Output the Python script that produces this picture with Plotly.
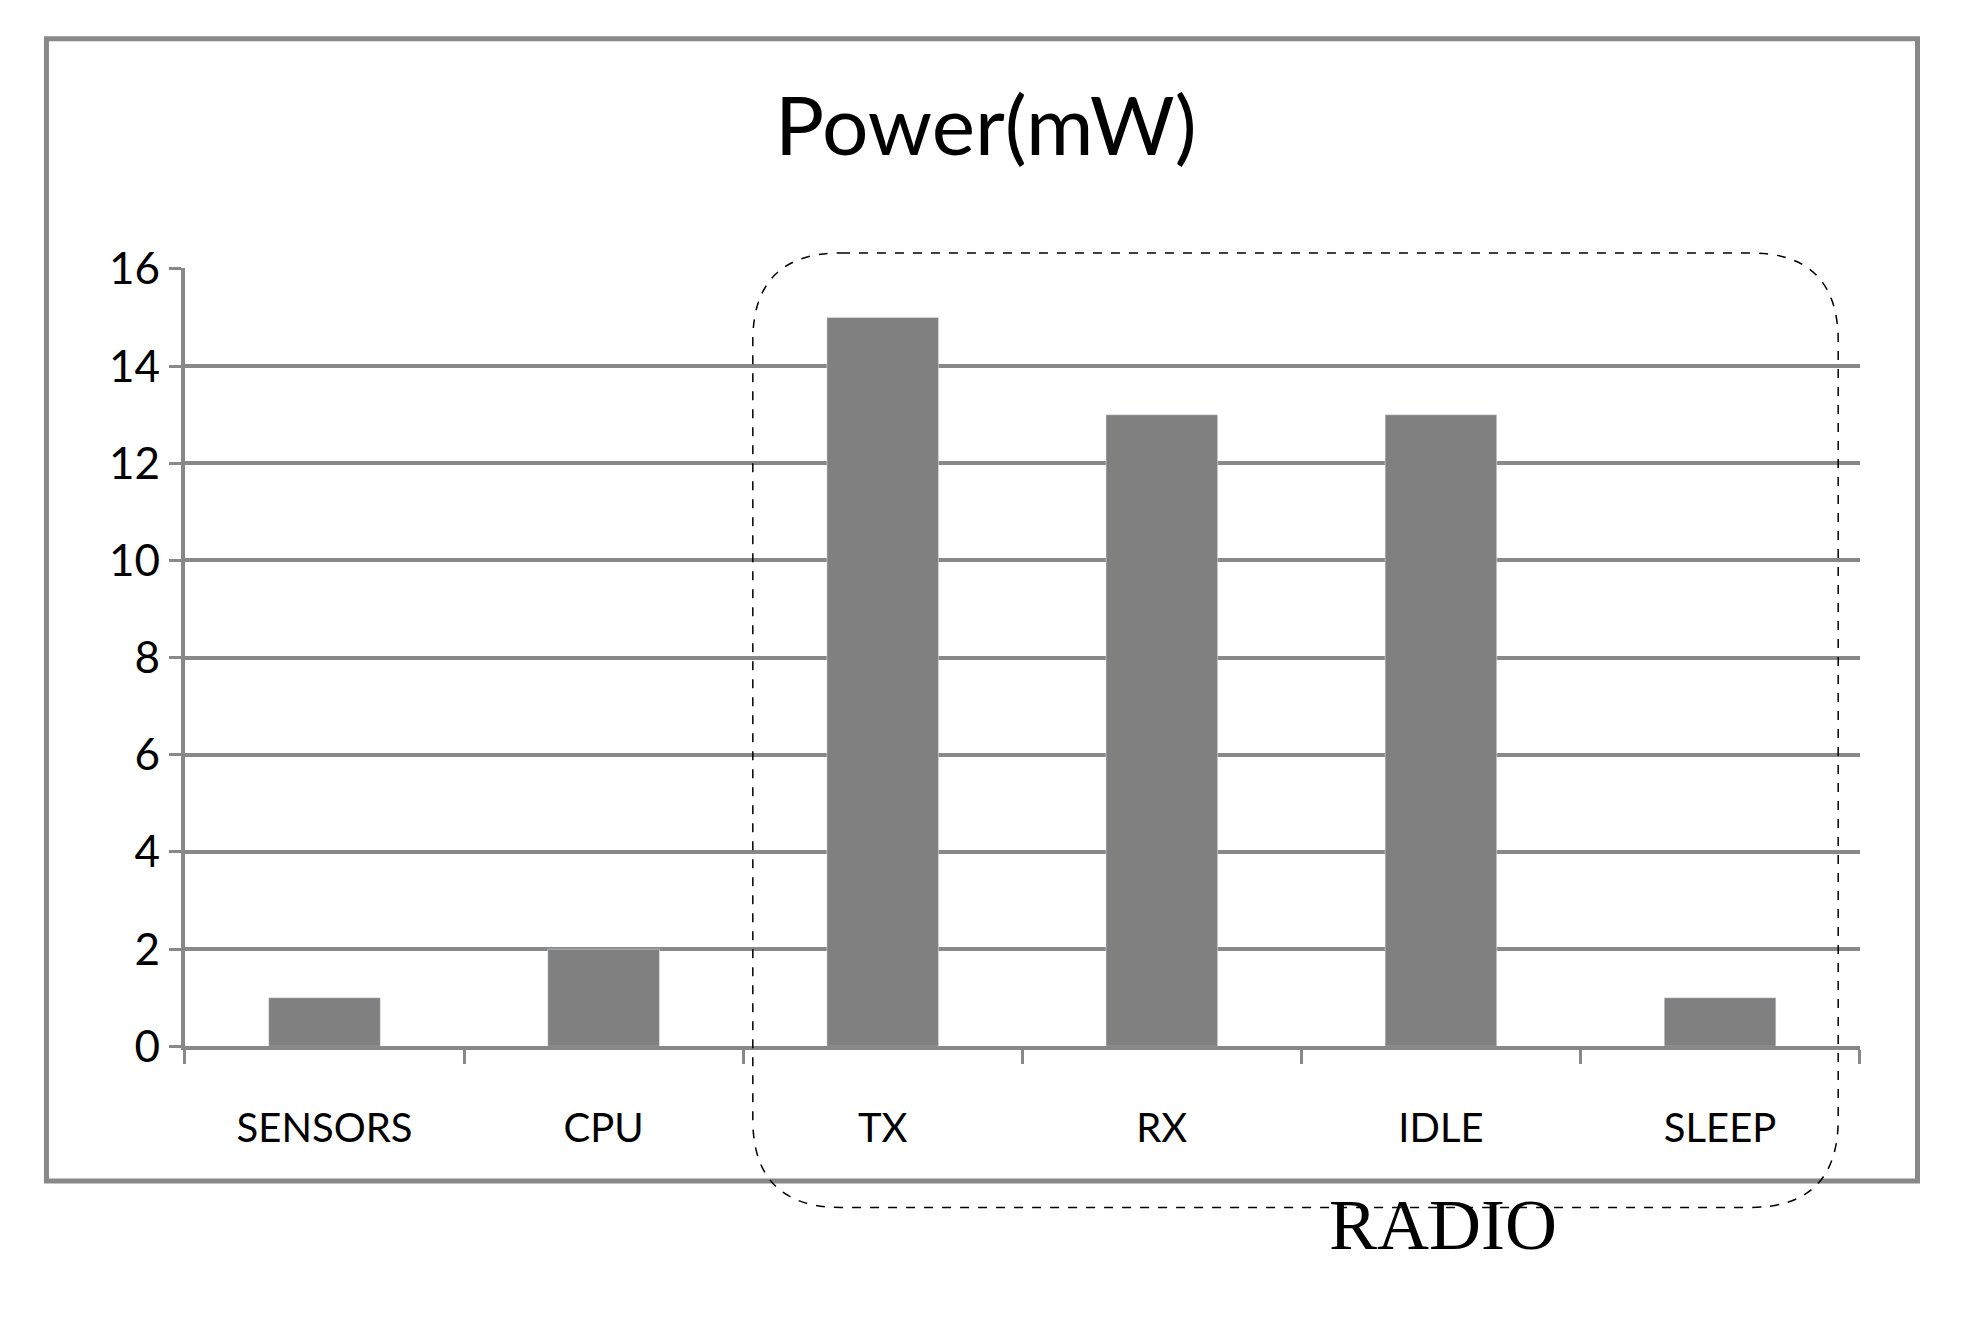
import plotly.graph_objects as go

categories = ["SENSORS", "CPU", "TX", "RX", "IDLE", "SLEEP"]
power_mw = [1, 2, 15, 13, 13, 1]
y_ticks = [0, 2, 4, 6, 8, 10, 12, 14, 16]

W, H = 1975, 1342
# calibrated mapping from reference-image coordinates to paper fractions
def X(d): return (46 + (d - 42) / 0.7942) / W
def Y(d): return 1 - (38 + (d - 56) / 0.7639) / H

fig = go.Figure(go.Bar(x=categories, y=power_mw, marker_color="#808080", width=0.4))

x0, x1, y0, y1, r = 597, 1459, 200, 958, 70
def P(x, y): return f"{X(x)},{Y(y)}"
path = (f"M {P(x0+r,y0)} L {P(x1-r,y0)} Q {P(x1,y0)} {P(x1,y0+r)} "
        f"L {P(x1,y1-r)} Q {P(x1,y1)} {P(x1-r,y1)} "
        f"L {P(x0+r,y1)} Q {P(x0,y1)} {P(x0,y1-r)} "
        f"L {P(x0,y0+r)} Q {P(x0,y0)} {P(x0+r,y0)} Z")

fig.update_layout(
    width=W, height=H, margin=dict(l=0, r=0, t=0, b=0),
    paper_bgcolor="white", plot_bgcolor="white", showlegend=False,
    font=dict(family="Lato, Open Sans, sans-serif", color="black"),
    title=dict(text="Power(mW)", x=X(782), xanchor="center", y=Y(117), yanchor="middle",
               font=dict(size=82)),
    xaxis=dict(domain=[X(146), X(1476)], showgrid=False, showline=True, linecolor="#888888",
               linewidth=4, ticks="outside", tickson="boundaries", ticklen=14, tickcolor="#888888",
               tickwidth=3, tickfont=dict(size=40), ticklabelstandoff=44),
    yaxis=dict(domain=[Y(830), Y(212)], range=[0, 16.02], tickvals=y_ticks, showgrid=True,
               gridcolor="#888888", gridwidth=4, showline=True, linecolor="#888888", linewidth=4,
               ticks="outside", ticklen=12, tickcolor="#888888", tickwidth=3,
               tickfont=dict(size=44), zeroline=False),
    shapes=[
        dict(type="rect", xref="paper", yref="paper", x0=X(36), x1=X(1522), y0=Y(937), y1=Y(30),
             line=dict(color="#888888", width=5)),
        dict(type="path", xref="paper", yref="paper", path=path,
             line=dict(color="black", width=1.5, dash="dash")),
    ],
    annotations=[dict(text="RADIO", xref="paper", yref="paper", x=X(1237), y=Y(1005),
                      showarrow=False, font=dict(family="Liberation Serif, serif", size=72))],
)
fig.write_html("out.html")
